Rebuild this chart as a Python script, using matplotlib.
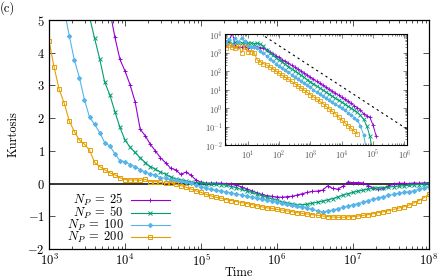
import numpy as np
import matplotlib
matplotlib.use("Agg")
import matplotlib.pyplot as plt
from matplotlib.ticker import LogLocator, NullFormatter, FixedLocator

plt.rcParams["font.family"] = "serif"
plt.rcParams["font.serif"] = ["cmr10", "DejaVu Serif"]
plt.rcParams["mathtext.fontset"] = "cm"
plt.rcParams["axes.unicode_minus"] = False
plt.rcParams["axes.formatter.use_mathtext"] = True

# ------------------------------------------------------------
# data (log10 of time, kurtosis values)
# ------------------------------------------------------------
log_t = [3.0, 3.067, 3.133, 3.2, 3.267, 3.333, 3.4, 3.467, 3.533, 3.6,
         3.667, 3.733, 3.8, 3.867, 3.933,
         4.0, 4.067, 4.133, 4.2, 4.267, 4.333, 4.4, 4.467, 4.533, 4.6,
         4.667, 4.733, 4.8, 4.867, 4.933,
         5.0, 5.067, 5.133, 5.2, 5.267, 5.333, 5.4, 5.467, 5.533, 5.6,
         5.667, 5.733, 5.8, 5.867, 5.933,
         6.0, 6.067, 6.133, 6.2, 6.267, 6.333, 6.4, 6.467, 6.533, 6.6,
         6.667, 6.733, 6.8, 6.867, 6.933,
         7.0, 7.067, 7.133, 7.2, 7.267, 7.333, 7.4, 7.467, 7.533, 7.6,
         7.667, 7.733, 7.8, 7.867, 7.933, 8.0]

kurt_200 = [4.36, 3.56, 2.88, 2.46, 1.91, 1.59, 1.33, 1.20, 1.02, 0.65,
            0.52, 0.42, 0.33, 0.27, 0.18, 0.12, 0.11, 0.11, 0.10, 0.13,
            0.06, 0.06, 0.04, 0.01, 0.03, -0.02, -0.06, -0.11, -0.17, -0.22,
            -0.27, -0.33, -0.38, -0.42, -0.45, -0.49, -0.52, -0.55, -0.58, -0.61,
            -0.64, -0.68, -0.71, -0.74, -0.76, -0.79, -0.81, -0.84, -0.86, -0.89,
            -0.91, -0.93, -0.95, -0.97, -0.99, -1.01, -1.02, -1.03, -1.03, -1.02,
            -1.01, -0.99, -0.97, -0.95, -0.92, -0.89, -0.86, -0.83, -0.79, -0.75,
            -0.71, -0.66, -0.59, -0.52, -0.43, -0.33]

kurt_100 = [5.3, 4.52, 3.78, 3.24, 2.56, 2.03, 1.81,
            1.56, 1.25, 1.15, 0.91, 0.70, 0.67, 0.58, 0.52, 0.42, 0.35,
            0.29, 0.26, 0.18, 0.16, 0.11, 0.11, 0.08, 0.05, 0.01, -0.04,
            -0.09, -0.14, -0.18, -0.21, -0.23, -0.26, -0.29, -0.32, -0.35, -0.38,
            -0.42, -0.45, -0.48, -0.51, -0.54, -0.57, -0.60, -0.63, -0.66, -0.69,
            -0.72, -0.75, -0.79, -0.83, -0.87, -0.84, -0.81, -0.77, -0.73, -0.69,
            -0.65, -0.61, -0.57, -0.52, -0.48, -0.44, -0.40, -0.36, -0.33, -0.30,
            -0.27, -0.25, -0.22, -0.18, -0.14, -0.09]

kurt_50 = [5.1, 4.44,
           3.81, 3.10, 2.71, 2.20, 1.72, 1.33, 1.11, 0.95, 0.79, 0.64,
           0.52, 0.44, 0.35, 0.29, 0.20, 0.15, 0.12, 0.08, 0.05, 0.03,
           0.02, 0.00, -0.01, -0.02, -0.03, -0.05, -0.09, -0.13, -0.18, -0.22,
           -0.27, -0.32, -0.37, -0.42, -0.47, -0.51, -0.56, -0.59, -0.62, -0.64,
           -0.65, -0.63, -0.60, -0.57, -0.54, -0.50, -0.46, -0.41, -0.35, -0.31,
           -0.27, -0.23, -0.20, -0.17, -0.14, -0.13, -0.13, -0.11, -0.09, -0.08,
           -0.07, -0.05, -0.04, -0.03, -0.02, -0.01]

kurt_25 = [5.3, 4.47, 3.80, 3.44, 3.02, 2.50, 1.66, 1.46,
           1.20, 1.00, 0.79, 0.64, 0.47, 0.42, 0.28, 0.35, 0.26, 0.11,
           0.04, 0.01, 0.01, 0.01, 0.01, 0.00, -0.01, -0.05, -0.10, -0.16,
           -0.22, -0.28, -0.33, -0.37, -0.39, -0.41, -0.42, -0.40, -0.39, -0.35,
           -0.31, -0.27, -0.24, -0.23, -0.20, -0.07, -0.15, -0.17, -0.08, 0.05,
           0.03, 0.03, 0.02, -0.06, -0.14, -0.18, -0.15, -0.07, -0.02, 0.01,
           0.01, 0.00, 0.02, 0.01, 0.02, 0.03]

# inset: log10(time) vs log10(quantity)
ins_log_t = [0.3, 0.4, 0.5, 0.6, 0.7, 0.8, 0.9, 1.0, 1.1, 1.2,
             1.3, 1.4, 1.5, 1.6, 1.7, 1.8, 1.9, 2.0, 2.1, 2.2,
             2.3, 2.4, 2.5, 2.6, 2.7, 2.8, 2.9, 3.0, 3.1, 3.2,
             3.3, 3.4, 3.5, 3.6, 3.7, 3.8, 3.9, 4.0, 4.1, 4.2,
             4.3, 4.4, 4.5, 4.6, 4.7, 4.8, 4.9, 5.0, 5.1]

ins_25 = [3.45, 3.55, 4.1, 3.35, 3.3, 3.28, 3.3, 3.27, 3.3, 3.28,
          3.3, 3.27, 3.22, 3.13, 3.03, 2.93, 2.83, 2.73, 2.62, 2.52,
          2.41, 2.31, 2.2, 2.1, 1.99, 1.88, 1.77, 1.66, 1.55, 1.44,
          1.34, 1.23, 1.12, 1.01, 0.9, 0.8, 0.69, 0.58, 0.47, 0.36,
          0.25, 0.13, 0.02, -0.1, -0.3, -0.42, -0.5, -0.9, -1.5]
ins_50 = [3.5, 3.58, 3.45, 3.55, 3.5, 3.52, 3.5, 3.5, 3.52, 3.48,
          3.5, 3.45, 3.35, 3.15, 2.98, 2.85, 2.72, 2.6, 2.48, 2.36,
          2.24, 2.12, 2.0, 1.89, 1.77, 1.65, 1.53, 1.42, 1.3, 1.19,
          1.08, 0.97, 0.86, 0.75, 0.64, 0.53, 0.42, 0.31, 0.2, 0.09,
          -0.02, -0.12, -0.24, -0.4, -0.6, -0.95, -1.5, -2.5]
ins_100 = [3.5, 3.75, 3.4, 3.8, 3.55, 3.8, 3.6, 3.35, 3.3, 3.28,
           3.25, 3.1, 2.95, 2.82, 2.66, 2.52, 2.4, 2.28, 2.16, 2.04,
           1.93, 1.81, 1.7, 1.58, 1.46, 1.35, 1.23, 1.11, 0.99, 0.87,
           0.76, 0.65, 0.53, 0.42, 0.31, 0.2, 0.09, -0.02, -0.13, -0.25,
           -0.4, -0.52, -0.65, -0.95, -1.45, -2.3]
ins_200 = [3.25, 3.4, 3.3, 3.25, 3.35, 3.0, 3.3, 3.05, 3.05, 3.0,
           2.6, 2.5, 2.4, 2.32, 2.22, 2.12, 2.0, 1.88, 1.77, 1.66,
           1.55, 1.44, 1.32, 1.2, 1.08, 0.96, 0.84, 0.72, 0.6, 0.48,
           0.36, 0.24, 0.1, -0.05, -0.18, -0.32, -0.48, -0.64, -0.8, -0.95,
           -1.1, -1.25, -1.4]

guide_log_t = [1.55, 6.09]
guide_log_y = [3.86, -1.14]

labels = [r"$N_P\;=\;25$", r"$N_P\;=\;50$", r"$N_P\;=\;100$", r"$N_P\;=\;200$"]
colors = ["#9400d3", "#009e73", "#56b4e9", "#e69f00"]
markers = ["+", "x", (8, 2, 0), "s"]
main_series = [kurt_25, kurt_50, kurt_100, kurt_200]
inset_series = [ins_25, ins_50, ins_100, ins_200]

# ------------------------------------------------------------
# figure
# ------------------------------------------------------------
W, H = 437, 280
fig = plt.figure(figsize=(W / 100, H / 100), dpi=100)
ax = fig.add_axes([49 / W, 1 - 249 / H, 380 / W, 229 / H])

t_all = 10 ** np.array(log_t)
ax.axhline(0, color="black", lw=1.1, zorder=1)
for vals, lab, c, m in zip(main_series, labels, colors, markers):
    x = t_all[-len(vals):]
    mfc = "none" if m == "s" else c
    ax.plot(x, vals, color=c, lw=0.8, marker=m, ms=3.3, mew=0.7,
            mfc=mfc, label=lab, zorder=2)

ax.set_xscale("log")
ax.set_xlim(1e3, 1e8)
ax.set_ylim(-2, 5)
ax.set_yticks(range(-2, 6))
ax.set_yticklabels([rf"${v}$" if v >= 0 else rf"$-{abs(v)}$" for v in range(-2, 6)])
ax.xaxis.set_major_locator(FixedLocator([1e3, 1e4, 1e5, 1e6, 1e7, 1e8]))
ax.set_xticklabels([rf"$10^{{{e}}}$" for e in range(3, 9)])
ax.xaxis.set_minor_locator(LogLocator(base=10, subs=np.arange(2, 10), numticks=20))
ax.xaxis.set_minor_formatter(NullFormatter())
ax.tick_params(which="both", direction="in", top=True, right=True,
               labelsize=9, width=0.6, color="#333333", pad=3)
ax.tick_params(which="major", length=4)
ax.tick_params(which="minor", length=2)
for sp in ax.spines.values():
    sp.set_linewidth(0.9)
ax.set_xlabel("Time", fontsize=9, labelpad=-1.5)
ax.set_ylabel("Kurtosis", fontsize=9, labelpad=6)

ax.legend(loc="upper right", bbox_to_anchor=(0.318, 0.248), frameon=False,
          markerfirst=False, numpoints=1, fontsize=9, handlelength=3.1,
          handletextpad=0.6, labelspacing=-0.25, borderpad=0, borderaxespad=0)

fig.text(0.0, 1 - 8 / H, "(c)", fontsize=9, va="center", ha="left")

# ------------------------------------------------------------
# inset
# ------------------------------------------------------------
ins = fig.add_axes([225.3 / W, 1 - 145 / H, 181.7 / W, 111 / H])
ti = 10 ** np.array(ins_log_t)
for vals, c, m in zip(inset_series, colors, markers):
    x = ti[:len(vals)]
    mfc = "none" if m == "s" else c
    ins.plot(x, 10 ** np.array(vals), color=c, lw=0.7, marker=m, ms=2.6,
             mew=0.6, mfc=mfc, zorder=2)
ins.plot(10 ** np.array(guide_log_t), 10 ** np.array(guide_log_y),
         color="black", lw=0.8, ls=(0, (2, 3)), zorder=3)
ins.set_xscale("log")
ins.set_yscale("log")
ins.set_xlim(10 ** 0.28, 10 ** 6.09)
ins.set_ylim(1e-2, 1e4)
ins.xaxis.set_major_locator(FixedLocator([1e1, 1e2, 1e3, 1e4, 1e5, 1e6]))
ins.set_xticklabels([rf"$10^{{{e}}}$" for e in range(1, 7)])
ins.yaxis.set_major_locator(FixedLocator([10.0 ** e for e in range(-2, 5)]))
ins.set_yticklabels([rf"$10^{{{e}}}$" for e in range(-2, 5)])
ins.xaxis.set_minor_locator(LogLocator(base=10, subs=np.arange(2, 10), numticks=20))
ins.yaxis.set_minor_locator(LogLocator(base=10, subs=np.arange(2, 10), numticks=20))
ins.xaxis.set_minor_formatter(NullFormatter())
ins.yaxis.set_minor_formatter(NullFormatter())
ins.tick_params(which="both", direction="in", top=True, right=True,
                labelsize=6, labelcolor="#555555", width=0.5, color="#555555", pad=2)
ins.tick_params(which="major", length=3)
ins.tick_params(which="minor", length=1.5)
for sp in ins.spines.values():
    sp.set_linewidth(0.8)

fig.savefig("out.png", dpi=100)
